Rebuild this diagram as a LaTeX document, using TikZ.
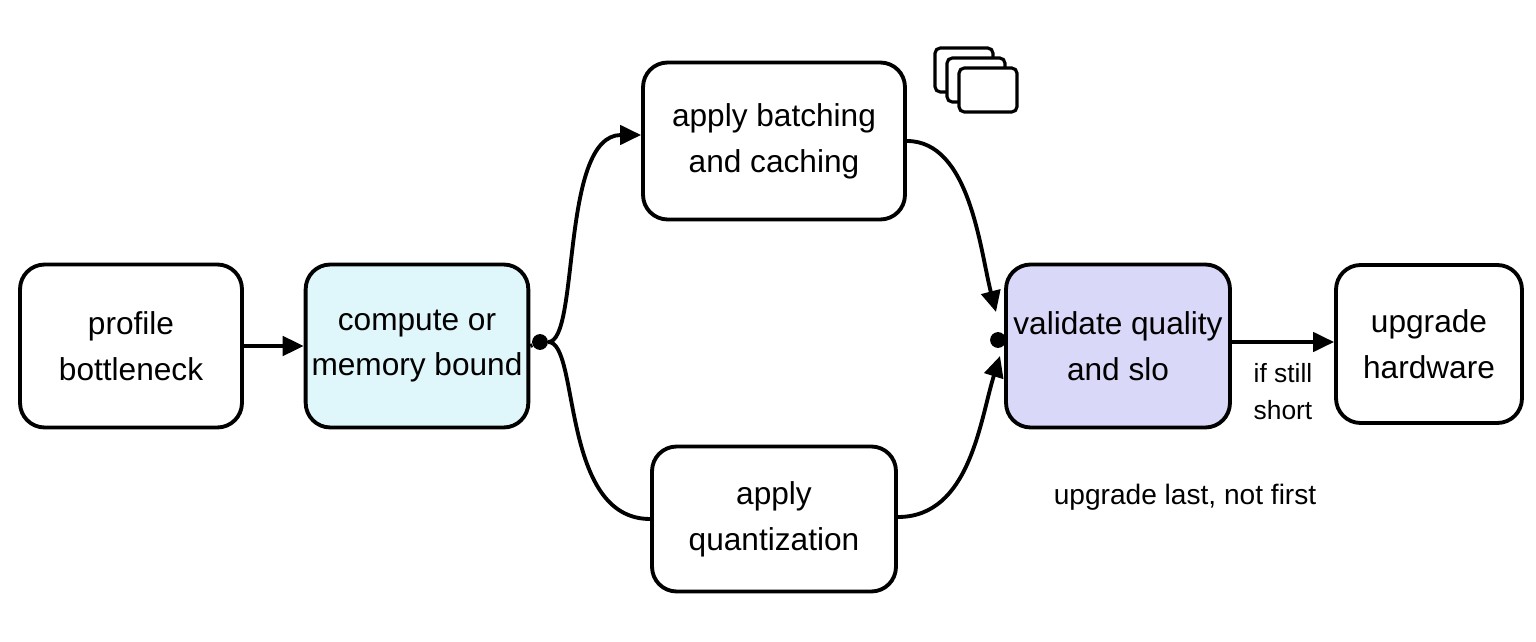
\documentclass[tikz,border=0pt]{standalone}
\usepackage{fontspec}
\setmainfont{Liberation Sans}
\usetikzlibrary{arrows.meta,positioning}
\tikzset{
    stepbox/.style={draw,line width=2.2pt,rounded corners=14pt,align=center,font=\fontsize{18}{26}\selectfont},
    flow/.style={-{Triangle[length=12pt,width=11pt]},line width=2.2pt},
    link/.style={line width=2.2pt},
    joint/.style={circle,fill,inner sep=0pt,minimum size=9pt}
}
\definecolor{computefill}{HTML}{DFF6FA}
\definecolor{validatefill}{HTML}{DAD8F8}

\begin{document}
\begin{tikzpicture}[x=0.02cm,y=-0.02cm]
    \useasboundingbox (0,0) rectangle (1536,642);

    \node[stepbox,minimum width=4.44cm,minimum height=3.26cm] (profile) at (131,346) {profile\\bottleneck};
    \node[stepbox,minimum width=4.4cm,minimum height=3.26cm,fill=computefill] (bound) at (417,346) {compute or\\memory bound};
    \node[stepbox,minimum width=5.24cm,minimum height=3.14cm] (batching) at (774,141) {apply batching\\and caching};
    \node[stepbox,minimum width=4.88cm,minimum height=2.9cm] (quant) at (774,519) {apply\\quantization};
    \node[stepbox,minimum width=4.48cm,minimum height=3.26cm,fill=validatefill] (validate) at (1118,346) {validate quality\\and slo};
    \node[stepbox,minimum width=3.72cm,minimum height=3.16cm] (upgrade) at (1429,344) {upgrade\\hardware};

    \node[joint] (split) at (540,342) {};
    \node[joint] (merge) at (998,340) {};

    % stacked cards
    \foreach \i in {0,1,2}
        \draw[line width=1.8pt,fill=white,rounded corners=3pt] (935+12*\i,48+10*\i) rectangle ++(58,44);

    \draw[flow] (profile) -- (bound);
    \draw[link] (bound.east) -- (split);
    \draw[flow] (split) .. controls (580,342) and (560,135) .. (batching.west |- 0,135);
    \draw[link] (split) .. controls (580,342) and (560,519) .. (quant.west |- 0,519);
    \draw[flow] (batching.east |- 0,141) .. controls (970,141) and (980,250) .. (996,312);
    \draw[flow] (quant.east |- 0,517) .. controls (970,517) and (980,420) .. (1000,356);
    \draw[flow] (validate.east |- 0,342) -- (upgrade.west |- 0,342)
        node[midway,below=8pt,align=center,font=\fontsize{15}{21}\selectfont] (still) {if still\\short};

    \node[font=\fontsize{16}{19}\selectfont] (note) at (1185,497) {upgrade last, not first};
\end{tikzpicture}
\end{document}
